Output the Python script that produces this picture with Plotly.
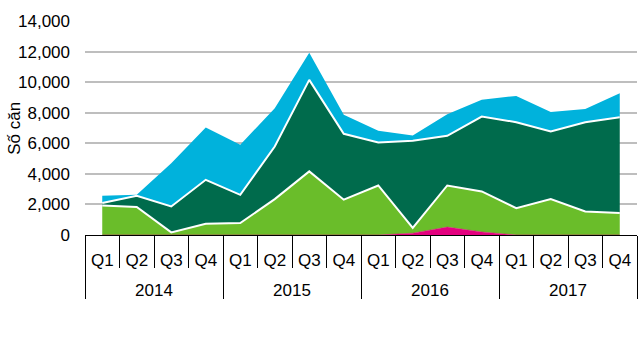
import plotly.graph_objects as go

year_labels = ["2014", "2015", "2016", "2017"]
quarter_labels = ["Q1", "Q2", "Q3", "Q4"]

# stacked series values (units: số căn)
magenta_vals = [0, 0, 0, 0, 0, 0, 0, 0, 0, 120, 520, 200, 0, 0, 0, 0]
lightgreen_vals = [1930, 1830, 170, 740, 780, 2350, 4160, 2310, 3240, 340, 2720, 2650, 1760, 2350, 1540, 1440]
darkgreen_vals = [160, 740, 1700, 2870, 1850, 3440, 5990, 4310, 2810, 5700, 3250, 4900, 5620, 4420, 5840, 6270]
cyan_vals = [480, 60, 2830, 3420, 3270, 2510, 1780, 1240, 770, 350, 1410, 1090, 1720, 1270, 860, 1570]

nq = len(quarter_labels)
n = len(year_labels) * nq
xpos = list(range(n))
q_text = [quarter_labels[i % nq] for i in xpos]
q_bounds = [i - 0.5 for i in range(n + 1)]
year_centers = [k * nq + (nq - 1) / 2 for k in range(len(year_labels))]
year_bounds = [k * nq - 0.5 for k in range(len(year_labels) + 1)]
xrange = [-0.5, n - 0.5]

series = [
    ("Magenta", magenta_vals, "#E4007F", 0.5, "#E4007F"),
    ("Light green", lightgreen_vals, "#6ABD2A", 2, "white"),
    ("Dark green", darkgreen_vals, "#006B4C", 2, "white"),
    ("Cyan", cyan_vals, "#00B2DC", 0, "#00B2DC"),
]

fig = go.Figure()
for name, vals, color, lw, lc in series:
    fig.add_trace(go.Scatter(
        x=xpos, y=vals, name=name, mode="lines", stackgroup="one",
        fillcolor=color, line=dict(color=lc, width=lw),
    ))

# invisible helper traces so the overlay axes (separators, year labels) are drawn
for ax, xs in (("x2", q_bounds), ("x3", year_centers), ("x4", year_bounds)):
    fig.add_trace(go.Scatter(
        x=xs, y=[None] * len(xs), xaxis=ax, yaxis="y", mode="none",
        showlegend=False, hoverinfo="skip",
    ))

font = dict(family="Arial, Liberation Sans, sans-serif", size=17, color="black")

fig.update_layout(
    width=640, height=358,
    margin=dict(l=85, r=3, t=21, b=123),
    paper_bgcolor="white", plot_bgcolor="white",
    showlegend=False,
    font=font,
    # quarter labels
    xaxis=dict(
        range=xrange, tickmode="array", tickvals=xpos, ticktext=q_text,
        ticks="", showgrid=False, zeroline=False, showline=False,
        tickfont=font, ticklabelstandoff=13, automargin=False,
    ),
    # quarter separators + axis line
    xaxis2=dict(
        overlaying="x", anchor="y", side="bottom", range=xrange,
        tickmode="array", tickvals=q_bounds, showticklabels=False,
        ticks="outside", ticklen=32, tickcolor="black", tickwidth=1,
        showline=True, linecolor="black", linewidth=1,
        showgrid=False, zeroline=False, automargin=False,
    ),
    # year labels
    xaxis3=dict(
        overlaying="x", anchor="y", side="bottom", range=xrange,
        tickmode="array", tickvals=year_centers, ticktext=year_labels,
        ticks="", tickfont=font, ticklabelstandoff=43,
        showgrid=False, zeroline=False, showline=False, automargin=False,
    ),
    # year separators
    xaxis4=dict(
        overlaying="x", anchor="y", side="bottom", range=xrange,
        tickmode="array", tickvals=year_bounds, showticklabels=False,
        ticks="outside", ticklen=63, tickcolor="black", tickwidth=1,
        showgrid=False, zeroline=False, showline=False, automargin=False,
    ),
    yaxis=dict(
        range=[0, 14000], dtick=2000, tickformat=",d",
        showgrid=True, gridcolor="#BEBEBE", gridwidth=1.5,
        zeroline=False, showline=False, automargin=False,
        tickfont=font, ticklabelstandoff=14,
    ),
    annotations=[dict(
        text="Số căn", textangle=-90, xref="paper", yref="paper",
        x=-0.129, y=0.5, xanchor="center", yanchor="middle",
        showarrow=False, font=font,
    )],
)

fig.write_html("out.html", post_script="document.body.style.margin='0';",
               config={"displayModeBar": False})
